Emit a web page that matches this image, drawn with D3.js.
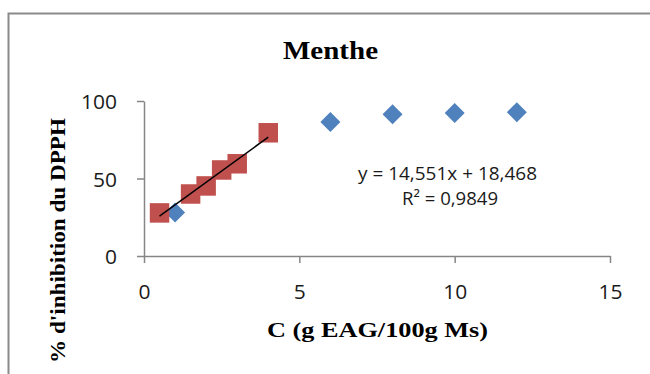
<!DOCTYPE html>
<html><head><meta charset="utf-8">
<script src="https://cdn.jsdelivr.net/npm/d3@7"></script>
<style>html,body{margin:0;padding:0;background:#fff;overflow:hidden}</style>
</head><body>
<svg id="c" width="650" height="374"></svg>
<script>
const title = "Menthe";
const xTitle = "C (g EAG/100g Ms)";
const yTitle = "% d'inhibition du DPPH";
const xTicks = [0, 5, 10, 15];
const yTicks = [0, 50, 100];
const blueX = [1, 6, 8, 10, 12];
const blueY = [28, 86.5, 91.5, 92.3, 92.8];
const redX = [0.5, 1.5, 2, 2.5, 3, 4];
const redY = [27.8, 40, 45.2, 55.5, 59.5, 79.5];
const slope = 14.551, intercept = 18.468;
const eqLines = ["y = 14,551x + 18,468", "R² = 0,9849"];

const svg = d3.select("#c");
const x = d3.scaleLinear().domain([0, 15]).range([144, 610]);
const y = d3.scaleLinear().domain([0, 100]).range([256, 101]);
const axisColor = "#868686";
const tickFont = "'Open Sans', 'Lato', sans-serif";

// frame
svg.append("path").attr("d", "M8.5,380 V13.5 H660")
  .attr("fill", "none").attr("stroke", "#8a8a8a").attr("stroke-width", 2);

// axes
const xAxis = svg.append("g").attr("transform", `translate(0,${y(0)})`)
  .call(d3.axisBottom(x).tickValues(xTicks).tickSizeInner(7).tickSizeOuter(0).tickFormat(d3.format("d")));
const yAxis = svg.append("g").attr("transform", `translate(${x(0)},0)`)
  .call(d3.axisLeft(y).tickValues(yTicks).tickSizeInner(7).tickSizeOuter(0).tickFormat(d3.format("d")));
[xAxis, yAxis].forEach(g => {
  g.select(".domain").attr("stroke", axisColor).attr("stroke-width", 1.5);
  g.selectAll(".tick line").attr("stroke", axisColor).attr("stroke-width", 1.5);
  g.selectAll(".tick text").attr("fill", "#1a1a1a").style("font-family", tickFont).style("font-size", "19.5px")
    .attr("textLength", d => String(d).length * 12).attr("lengthAdjust", "spacingAndGlyphs");
});
xAxis.selectAll(".tick text").attr("dy", null).attr("y", 43);
yAxis.selectAll(".tick text").attr("dy", null).attr("x", -27).attr("y", 7.5);

// blue diamonds
svg.append("g").selectAll("path").data(blueX.map((d, i) => [d, blueY[i]])).join("path")
  .attr("d", d3.symbol(d3.symbolSquare, 200)())
  .attr("transform", d => `translate(${x(d[0])},${y(d[1])}) rotate(45)`)
  .attr("fill", "#4F81BD");

// red squares
svg.append("g").selectAll("path").data(redX.map((d, i) => [d, redY[i]])).join("path")
  .attr("d", d3.symbol(d3.symbolSquare, 380)())
  .attr("transform", d => `translate(${x(d[0])},${y(d[1])})`)
  .attr("fill", "#C0504D");

// trend line
const tx = d3.extent(redX);
svg.append("line")
  .attr("x1", x(tx[0])).attr("y1", y(slope * tx[0] + intercept))
  .attr("x2", x(tx[1])).attr("y2", y(slope * tx[1] + intercept))
  .attr("stroke", "#000").attr("stroke-width", 1.5);

// equation
svg.append("text").attr("x", 447.5).attr("y", 180).attr("text-anchor", "middle")
  .attr("textLength", 179).attr("lengthAdjust", "spacingAndGlyphs").attr("fill", "#1a1a1a")
  .style("font-family", tickFont).style("font-size", "18px").text(eqLines[0]);
svg.append("text").attr("x", 450).attr("y", 204.5).attr("text-anchor", "middle")
  .attr("textLength", 96).attr("lengthAdjust", "spacingAndGlyphs").attr("fill", "#1a1a1a")
  .style("font-family", tickFont).style("font-size", "18px").text(eqLines[1]);

// titles
const serif = "'Liberation Serif', 'Times New Roman', serif";
svg.append("text").attr("x", 330.5).attr("y", 59).attr("text-anchor", "middle")
  .attr("textLength", 95).attr("lengthAdjust", "spacingAndGlyphs")
  .style("font-family", serif).style("font-weight", "bold").style("font-size", "26px").text(title);
svg.append("text").attr("x", 377.5).attr("y", 337).attr("text-anchor", "middle")
  .attr("textLength", 221).attr("lengthAdjust", "spacingAndGlyphs")
  .style("font-family", serif).style("font-weight", "bold").style("font-size", "21px").text(xTitle);
svg.append("text").attr("transform", "translate(65,240.5) rotate(-90)").attr("text-anchor", "middle")
  .attr("textLength", 245).attr("lengthAdjust", "spacingAndGlyphs")
  .style("font-family", serif).style("font-weight", "bold").style("font-size", "21px").text(yTitle);
</script>
</body></html>
